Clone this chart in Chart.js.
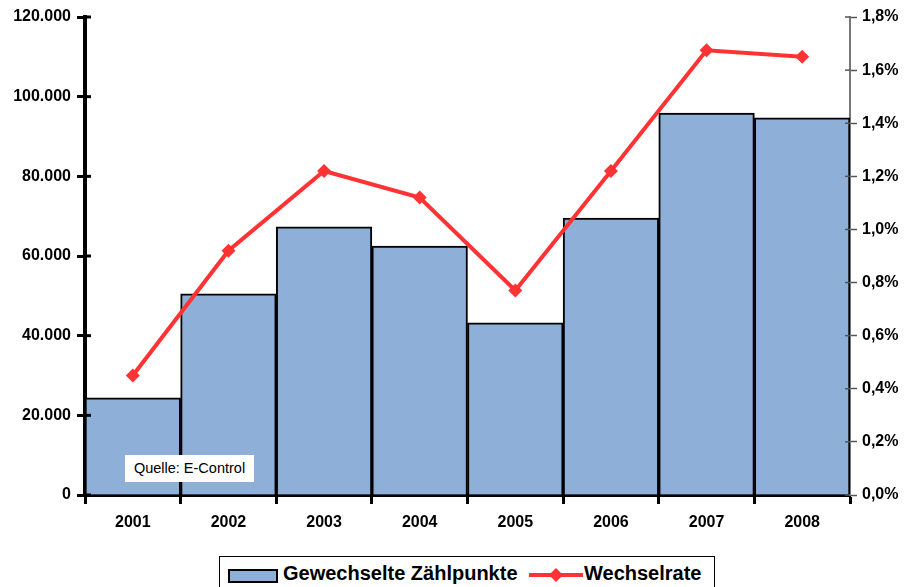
<!DOCTYPE html>
<html>
<head>
<meta charset="utf-8">
<script src="https://cdn.jsdelivr.net/npm/chart.js@4"></script>
<style>
  body { margin: 0; background: #fff; font-family: "Liberation Sans", Arial, sans-serif; }
  #wrap { position: relative; width: 905px; height: 587px; overflow: hidden; }
  #quelle {
    position: absolute; left: 125px; top: 455px; width: 129px; height: 27px;
    background: #fff; font-size: 14.5px; line-height: 27px; text-align: center; color: #000;
  }
  #legend {
    position: absolute; left: 219px; top: 556px; width: 494px; height: 40px;
    border: 1.5px solid #000; background: #fff; font-weight: bold; font-size: 20px;
  }
  #legend .item { position: absolute; top: 5px; white-space: nowrap; }
  .swatch { position: absolute; left: 8px; top: 12px; width: 46px; height: 10px; background: #8eafd7; border: 2px solid #000; }
</style>
</head>
<body>
<div id="wrap">
  <canvas id="chart"></canvas>
  <div id="quelle">Quelle: E-Control</div>
  <div id="legend">
    <div class="swatch"></div>
    <span class="item" style="left:63px">Gewechselte Zählpunkte</span>
    <svg style="position:absolute;left:309px;top:7px" width="54" height="22">
      <line x1="0" y1="11" x2="54" y2="11" stroke="#ff3333" stroke-width="4"/>
      <polygon points="27,4 34,11 27,18 20,11" fill="#ff3333"/>
    </svg>
    <span class="item" style="left:364px">Wechselrate</span>
  </div>
</div>
<script>
// data
const years = ["2001", "2002", "2003", "2004", "2005", "2006", "2007", "2008"];
const switchedPoints = [24400, 50500, 67300, 62500, 43200, 69500, 95900, 94700];
const switchRate = [0.45, 0.92, 1.22, 1.12, 0.77, 1.22, 1.675, 1.65];

const barColor = "#8eafd7";
const lineColor = "#ff3333";
const tickFont = { family: "Liberation Sans, Arial, sans-serif", size: 16, weight: "bold" };

function fmtThousands(v) {
  return String(v).replace(/\B(?=(\d{3})+(?!\d))/g, ".");
}

// short tick stubs inside the plot area, like the original axes
const innerTicks = {
  id: "innerTicks",
  afterDatasetsDraw(chart) {
    const ctx = chart.ctx;
    const area = chart.chartArea;
    ctx.save();
    chart.scales.y.ticks.forEach(t => {
      const y = chart.scales.y.getPixelForValue(t.value);
      ctx.strokeStyle = "#000";
      ctx.lineWidth = 3;
      ctx.beginPath();
      ctx.moveTo(area.left, y);
      ctx.lineTo(area.left + 6, y);
      ctx.stroke();
    });
    chart.scales.y1.ticks.forEach(t => {
      const y = chart.scales.y1.getPixelForValue(t.value);
      ctx.strokeStyle = "#555";
      ctx.lineWidth = 1.5;
      ctx.beginPath();
      ctx.moveTo(area.right - 5, y);
      ctx.lineTo(area.right, y);
      ctx.stroke();
    });
    ctx.restore();
  }
};

const chart = new Chart(document.getElementById("chart"), {
  data: {
    labels: years,
    datasets: [
      {
        type: "line",
        label: "Wechselrate",
        data: switchRate,
        yAxisID: "y1",
        borderColor: lineColor,
        backgroundColor: lineColor,
        borderWidth: 4,
        pointStyle: "rectRot",
        pointRadius: 7,
        pointBorderWidth: 0,
        tension: 0,
        order: 0
      },
      {
        type: "bar",
        label: "Gewechselte Zählpunkte",
        data: switchedPoints,
        yAxisID: "y",
        backgroundColor: barColor,
        borderColor: "#000",
        borderWidth: 2,
        categoryPercentage: 1,
        barPercentage: 1,
        order: 1
      }
    ]
  },
  options: {
    responsive: true,
    maintainAspectRatio: false,
    animation: false,
    layout: { padding: { top: 17, left: 0, right: 0, bottom: 0 } },
    plugins: { legend: { display: false }, tooltip: { enabled: false } },
    scales: {
      x: {
        offset: true,
        grid: { offset: true, drawOnChartArea: false, tickLength: 9, tickWidth: 3, tickColor: "#000" },
        border: { color: "#000", width: 4 },
        ticks: { color: "#000", font: tickFont, padding: 9 },
        afterFit: s => { s.height = 92; }
      },
      y: {
        position: "left",
        min: 0,
        max: 120000,
        grid: { drawOnChartArea: false, tickLength: 8, tickWidth: 3, tickColor: "#000" },
        border: { color: "#000", width: 4 },
        ticks: { stepSize: 20000, color: "#000", font: tickFont, padding: 6, callback: v => fmtThousands(v) },
        afterFit: s => { s.width = 85; }
      },
      y1: {
        position: "right",
        min: 0,
        max: 1.8,
        grid: { drawOnChartArea: false, tickLength: 7, tickWidth: 1.5, tickColor: "#555" },
        border: { color: "#777", width: 2 },
        ticks: { stepSize: 0.2, color: "#000", font: tickFont, padding: 5, callback: v => v.toFixed(1).replace(".", ",") + "%" },
        afterFit: s => { s.width = 55; }
      }
    }
  },
  plugins: [innerTicks]
});
</script>
</body>
</html>
